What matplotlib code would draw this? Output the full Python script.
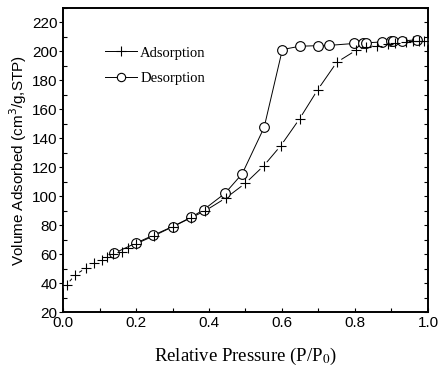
import matplotlib
matplotlib.use('Agg')
import matplotlib.pyplot as plt
from matplotlib.ticker import MultipleLocator

# adsorption branch (+)
ads_p = [0.010, 0.033, 0.062, 0.086, 0.106, 0.121, 0.138, 0.161, 0.179, 0.199,
         0.248, 0.300, 0.350, 0.390, 0.447, 0.500, 0.550, 0.597, 0.648, 0.698,
         0.750, 0.803, 0.830, 0.860, 0.890, 0.910, 0.940, 0.960, 0.975, 0.988]
ads_v = [38.7, 45.6, 50.2, 53.7, 56.0, 58.3, 60.1, 61.7, 64.0, 67.0,
         72.5, 78.8, 85.0, 90.0, 98.9, 109.0, 121.0, 135.0, 153.4, 173.6,
         192.5, 200.8, 203.0, 204.0, 205.0, 205.5, 206.3, 207.0, 207.0, 207.3]

# desorption branch (o)
des_p = [0.140, 0.199, 0.247, 0.300, 0.350, 0.385, 0.444, 0.491, 0.551, 0.601,
         0.649, 0.700, 0.730, 0.797, 0.823, 0.830, 0.873, 0.900, 0.905, 0.930, 0.969]
des_v = [60.6, 67.5, 73.0, 79.0, 85.3, 90.6, 102.0, 115.5, 147.5, 201.3,
         203.6, 204.0, 204.2, 205.5, 206.0, 206.0, 206.5, 207.0, 207.0, 207.3, 208.0]

sans = 'Liberation Sans'
serif = 'Liberation Serif'

fig = plt.figure(figsize=(4.4, 3.78), dpi=100)
ax = fig.add_axes([0.1432, 0.1746, 0.8295, 0.8042])

# adsorption: line with small gaps around the markers (origin style)
ax.plot(ads_p, ads_v, color='black', lw=0.7, zorder=2)
ax.plot(ads_p, ads_v, ls='none', marker='o', ms=7, mfc='white', mew=0, zorder=3)

# desorption
ax.plot(des_p, des_v, color='black', lw=0.7, marker='o', ms=7, mfc='white',
        mec='black', mew=0.8, zorder=5)

# plus markers on top so they show inside the circles
ax.plot(ads_p, ads_v, ls='none', marker='+', ms=7.5, mew=0.8, color='black', zorder=6)

# legend handles
h1, = ax.plot([], [], color='black', lw=0.7, marker='+', ms=7, mew=0.8)
h2, = ax.plot([], [], color='black', lw=0.7, marker='o', ms=6, mfc='white', mew=0.8)
ax.legend([h1, h2], ['Adsorption', 'Desorption'], loc='upper left',
          bbox_to_anchor=(0.08, 0.917), frameon=False, handlelength=2.2,
          handletextpad=0.2, labelspacing=0.85, prop={'family': serif, 'size': 10.5})

ax.set_xlim(0.0, 1.0)
ax.set_ylim(20, 230)
ax.xaxis.set_major_locator(MultipleLocator(0.2))
ax.xaxis.set_minor_locator(MultipleLocator(0.1))
ax.yaxis.set_major_locator(MultipleLocator(20))
ax.yaxis.set_minor_locator(MultipleLocator(10))
ax.set_yticks([20, 40, 60, 80, 100, 120, 140, 160, 180, 200, 220])

ax.tick_params(axis='x', which='both', direction='in', length=3, width=0.8,
               top=False, labelsize=11, pad=3)
ax.tick_params(axis='y', which='major', direction='out', length=3, width=0.8,
               right=False, labelsize=11, pad=1)
ax.tick_params(axis='y', which='minor', direction='in', length=3, width=0.8, right=False)
for lab in ax.get_xticklabels() + ax.get_yticklabels():
    lab.set_fontfamily(sans)

# right-side inward ticks every 10
ax2 = ax.twinx()
ax2.set_ylim(20, 230)
ax2.yaxis.set_major_locator(MultipleLocator(10))
ax2.tick_params(axis='y', direction='in', length=3, width=0.8, labelright=False)

for a in (ax, ax2):
    for s in a.spines.values():
        s.set_linewidth(1.2)

ax.set_xlabel('Relative Pressure (P/P$_0$)', family=serif, fontsize=13.5,
              math_fontfamily='stix', labelpad=11)
ax.set_ylabel('Volume Adsorbed (cm$^3$/g,STP)', family=sans, fontsize=11,
              math_fontfamily='dejavusans', labelpad=2)

fig.savefig('out.png', dpi=100)
